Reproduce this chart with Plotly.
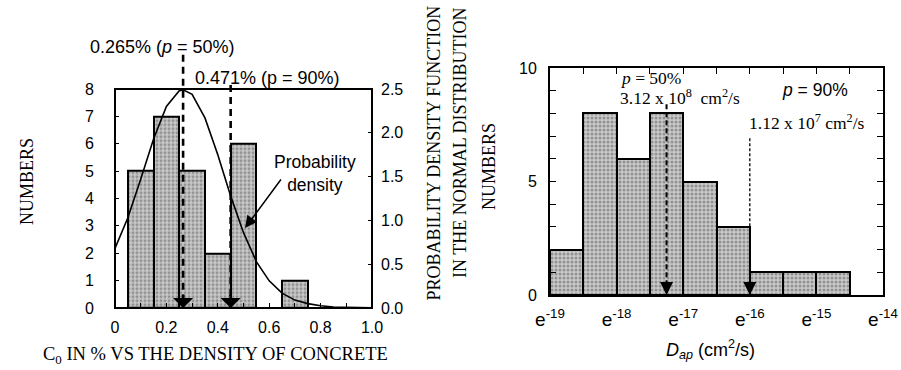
import plotly.graph_objects as go

# ---------------- data ----------------
# Left panel: C0 histogram (counts) and normal probability density curve
left_centers = [0.1, 0.2, 0.3, 0.4, 0.5, 0.7]
left_counts = [5, 7, 5, 2, 6, 1]
pdf_x = [0.0, 0.05, 0.1, 0.15, 0.2, 0.25, 0.265, 0.3, 0.35, 0.4, 0.45, 0.5,
         0.55, 0.6, 0.65, 0.7, 0.75, 0.8, 0.85, 0.9, 0.95, 1.0]
pdf_y = [0.68, 1.03, 1.47, 1.93, 2.30, 2.48, 2.49, 2.44, 2.17, 1.75, 1.28, 0.86,
         0.53, 0.31, 0.17, 0.09, 0.05, 0.025, 0.012, 0.006, 0.003, 0.002]
left_ref_x = [0.265, 0.45]        # p = 50 %, p = 90 %
left_ref_top = [9.25, 8.15]
left_xticks = [0, 0.2, 0.4, 0.6, 0.8, 1.0]
left_xtick_text = ["0", "0.2", "0.4", "0.6", "0.8", "1.0"]
left_yticks = [0, 1, 2, 3, 4, 5, 6, 7, 8]
pdf_ticks = [0.0, 0.5, 1.0, 1.5, 2.0, 2.5]
pdf_tick_text = ["0.0", "0.5", "1.0", "1.5", "2.0", "2.5"]

# Right panel: D_ap histogram (exponent of e)
right_centers = [-18.75, -18.25, -17.75, -17.25, -16.75, -16.25, -15.75, -15.25, -14.75]
right_counts = [2, 8, 6, 8, 5, 3, 1, 1, 1]
right_ref_x = [-17.25, -16.0]
right_ref_top = [8.4, 6.9]
right_xticks = [-19, -18, -17, -16, -15, -14]
right_xtick_text = ["e<sup>-19</sup>", "e<sup>-18</sup>", "e<sup>-17</sup>",
                    "e<sup>-16</sup>", "e<sup>-15</sup>", "e<sup>-14</sup>"]
right_yticks = [0, 5, 10]

# ---------------- layout constants ----------------
W, H = 901, 370
SANS = "Liberation Sans, Arial, sans-serif"
SERIF = "Liberation Serif, Times New Roman, serif"

L_x0, L_x1 = 115, 372          # pixel columns of x=0 and x=1
L_y0, L_y8 = 308, 89           # pixel rows of y=0 and y=8
L_ymax = 9.4
px_per = (L_y0 - L_y8) / 8.0
L_top_px = L_y0 - L_ymax * px_per
L_dom_y = [1 - L_y0 / H, 1 - L_top_px / H]
L_dom_x = [L_x0 / W, L_x1 / W]
pdf_max = L_ymax * 2.5 / 8.0


def left_paper_y(v):
    return L_dom_y[0] + v / L_ymax * (L_dom_y[1] - L_dom_y[0])


def left_paper_x(v):
    return L_dom_x[0] + v * (L_dom_x[1] - L_dom_x[0])


R_dom_x = [550 / W, 883 / W]
R_dom_y = [1 - 295 / H, 1 - 68 / H]

bar_pattern = dict(shape=".", bgcolor="#c9c9c9", fgcolor="#5a5a5a", size=4, solidity=0.45)

fig = go.Figure()

# left bars
fig.add_trace(go.Bar(x=left_centers, y=left_counts, width=0.1,
                     marker=dict(color="#bdbdbd", pattern=bar_pattern,
                                 line=dict(color="black", width=2)),
                     xaxis="x", yaxis="y", showlegend=False))
# pdf curve
fig.add_trace(go.Scatter(x=pdf_x, y=pdf_y, mode="lines", line=dict(color="black", width=1.6),
                         xaxis="x", yaxis="y2", showlegend=False))
# left dashed reference lines
for xv, top in zip(left_ref_x, left_ref_top):
    fig.add_trace(go.Scatter(x=[xv, xv], y=[top, 0], mode="lines",
                             line=dict(color="black", width=2.6, dash="7px,5px"),
                             xaxis="x", yaxis="y", showlegend=False))

# right bars
fig.add_trace(go.Bar(x=right_centers, y=right_counts, width=0.5,
                     marker=dict(color="#bdbdbd", pattern=bar_pattern,
                                 line=dict(color="black", width=2)),
                     xaxis="x3", yaxis="y3", showlegend=False))
fig.add_trace(go.Scatter(x=[right_ref_x[0]] * 2, y=[right_ref_top[0], 0], mode="lines",
                         line=dict(color="black", width=2, dash="5px,3px"),
                         xaxis="x3", yaxis="y3", showlegend=False))
fig.add_trace(go.Scatter(x=[right_ref_x[1]] * 2, y=[right_ref_top[1], 0], mode="lines",
                         line=dict(color="black", width=1.3, dash="3px,2px"),
                         xaxis="x3", yaxis="y3", showlegend=False))

annotations = []
# arrowheads at the bottom of the dashed lines
for xv in left_ref_x:
    annotations.append(dict(x=xv, y=0, ax=xv, ay=0.55, xref="x", yref="y", axref="x", ayref="y",
                            text="", showarrow=True, arrowhead=1, arrowwidth=2.5, arrowsize=1.35,
                            arrowcolor="black", standoff=0))
for xv in right_ref_x:
    annotations.append(dict(x=xv, y=0, ax=xv, ay=0.6, xref="x3", yref="y3", axref="x3", ayref="y3",
                            text="", showarrow=True, arrowhead=2, arrowwidth=2, arrowsize=1.3,
                            arrowcolor="black", standoff=0))

# left panel texts
annotations += [
    dict(x=left_paper_x(-0.105), y=left_paper_y(9.53), xref="paper", yref="paper",
         xanchor="left", yanchor="middle",
         text="0.265% (<i>p</i> = 50%)", showarrow=False, font=dict(family=SANS, size=18, color="black")),
    dict(x=0.303, y=left_paper_y(8.40), xref="x", yref="paper", xanchor="left", yanchor="middle",
         text="0.471% (p = 90%)", showarrow=False, font=dict(family=SANS, size=18, color="black")),
    dict(x=0.78, y=4.9, xref="x", yref="y", xanchor="center", yanchor="middle",
         text="Probability<br>density", showarrow=False, align="center",
         font=dict(family=SANS, size=17.5, color="black")),
    dict(x=0.506, y=2.92, ax=0.65, ay=4.75, xref="x", yref="y", axref="x", ayref="y",
         text="", showarrow=True, arrowhead=2, arrowwidth=1.5, arrowsize=1.6,
         arrowcolor="black", standoff=0),
    dict(x=15 / W, y=1 - 182 / H, xref="paper", yref="paper", text="NUMBERS", textangle=-90,
         showarrow=False, font=dict(family=SERIF, size=18, color="black")),
    dict(x=433 / W, y=1 - 4 / H, xref="paper", yref="paper", yanchor="top",
         text="PROBABILITY DENSITY FUNCTION", textangle=-90,
         showarrow=False, font=dict(family=SERIF, size=18, color="black")),
    dict(x=460 / W, y=1 - 6 / H, xref="paper", yref="paper", yanchor="top",
         text="IN THE NORMAL DISTRIBUTION", textangle=-90,
         showarrow=False, font=dict(family=SERIF, size=18, color="black")),
    dict(x=41 / W, y=1 - 355 / H, xref="paper", yref="paper", xanchor="left", yanchor="middle",
         text="C<sub>0</sub> IN % VS THE DENSITY OF CONCRETE",
         showarrow=False, font=dict(family=SERIF, size=18.5, color="black")),
]
# right panel texts
annotations += [
    dict(x=489 / W, y=1 - 167 / H, xref="paper", yref="paper", text="NUMBERS", textangle=-90,
         showarrow=False, font=dict(family=SERIF, size=18, color="black")),
    dict(x=-17.98, y=9.56, xref="x3", yref="y3", xanchor="left", yanchor="middle",
         text="<i>p</i> = 50%", showarrow=False, font=dict(family=SERIF, size=17.5, color="black")),
    dict(x=-17.98, y=8.72, xref="x3", yref="y3", xanchor="left", yanchor="middle",
         text="3.12 x 10<sup>8</sup>  cm<sup>2</sup>/s", showarrow=False,
         font=dict(family=SERIF, size=17.5, color="black")),
    dict(x=-15.55, y=9.03, xref="x3", yref="y3", xanchor="left", yanchor="middle",
         text="<i>p</i> = 90%", showarrow=False, font=dict(family=SANS, size=17.5, color="black")),
    dict(x=-16.04, y=7.62, xref="x3", yref="y3", xanchor="left", yanchor="middle",
         text="1.12 x 10<sup>7</sup> cm<sup>2</sup>/s", showarrow=False,
         font=dict(family=SERIF, size=17.5, color="black")),
    dict(x=710 / W, y=1 - 349 / H, xref="paper", yref="paper", xanchor="center", yanchor="middle",
         text="<i>D</i><sub><i>ap</i></sub> (cm<sup>2</sup>/s)", showarrow=False,
         font=dict(family=SANS, size=18, color="black")),
]

# frame of left panel (y from 0 to 8 only)
frame_top = 1 - L_y8 / H
shapes = [dict(type="rect", xref="paper", yref="paper", x0=L_dom_x[0], x1=L_dom_x[1],
               y0=L_dom_y[0], y1=frame_top, line=dict(color="black", width=2), fillcolor="rgba(0,0,0,0)",
               layer="above")]

tick_font = dict(family=SANS, size=16, color="black")

fig.update_layout(
    width=W, height=H, margin=dict(l=0, r=0, t=0, b=0, autoexpand=False),
    paper_bgcolor="white", plot_bgcolor="white", bargap=0, showlegend=False,
    xaxis=dict(domain=L_dom_x, range=[0, 1], tickvals=left_xticks, ticktext=left_xtick_text,
               ticks="inside", ticklen=5, tickwidth=1, tickcolor="black", showgrid=False,
               zeroline=False, showline=False, tickfont=tick_font, ticklabelstandoff=8,
               automargin=False,
               minor=dict(dtick=0.1, tick0=0, ticks="inside", ticklen=5, tickcolor="black", showgrid=False),
               anchor="y"),
    yaxis=dict(domain=L_dom_y, range=[0, L_ymax], tickvals=left_yticks, ticks="inside", ticklen=4,
               tickcolor="black", showgrid=False, zeroline=False, showline=False,
               tickfont=tick_font, ticklabelstandoff=20, automargin=False, anchor="x"),
    yaxis2=dict(overlaying="y", side="right", range=[0, pdf_max], tickvals=pdf_ticks,
                ticktext=pdf_tick_text, ticks="inside", ticklen=4, tickcolor="black",
                showgrid=False, zeroline=False, showline=False, tickfont=tick_font,
                ticklabelstandoff=8, automargin=False, anchor="x"),
    xaxis3=dict(domain=R_dom_x, range=[-19, -14], tickvals=right_xticks, ticktext=right_xtick_text,
                ticks="inside", ticklen=6, tickcolor="black", showgrid=False, zeroline=False,
                showline=True, linecolor="black", linewidth=2, mirror="ticks",
                tickfont=dict(family=SANS, size=19, color="black"), ticklabelstandoff=6,
                automargin=False,
                minor=dict(dtick=0.5, tick0=-19, ticks="inside", ticklen=6, tickcolor="black",
                           showgrid=False),
                anchor="y3"),
    yaxis3=dict(domain=R_dom_y, range=[0, 10], tickvals=right_yticks, ticks="inside", ticklen=6,
                tickcolor="black", showgrid=False, zeroline=False, showline=True, linecolor="black",
                linewidth=2, mirror="ticks", tickfont=tick_font, ticklabelstandoff=8,
                automargin=False,
                minor=dict(dtick=1, tick0=0, ticks="inside", ticklen=6, tickcolor="black",
                           showgrid=False),
                anchor="x3"),
    annotations=annotations, shapes=shapes,
)

fig.write_html("out.html", config={"displayModeBar": False},
               post_script="document.body.style.margin='0';document.body.style.padding='0';")
